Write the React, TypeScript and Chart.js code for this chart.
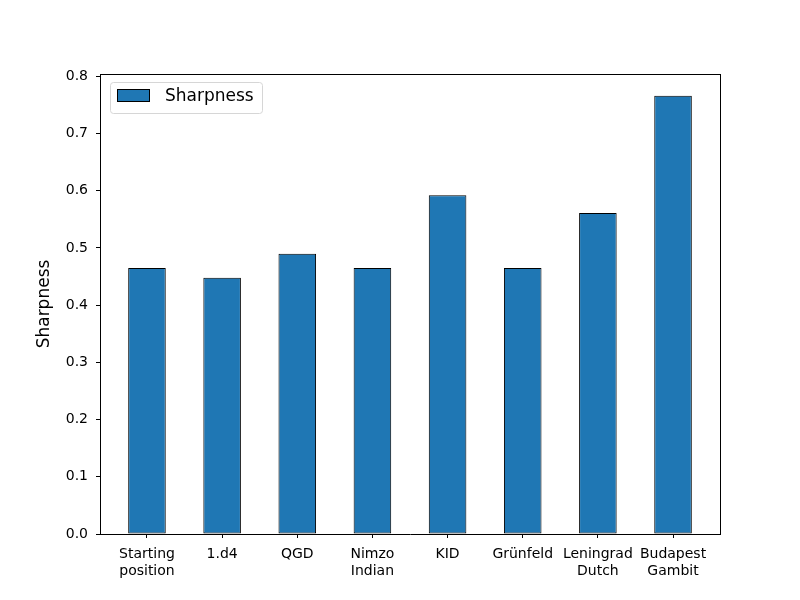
import { Chart, registerables } from "chart.js";
import { useEffect, useRef } from "react";

Chart.register(...registerables);

const openings = [
  "Starting\nposition",
  "1.d4",
  "QGD",
  "Nimzo\nIndian",
  "KID",
  "Grünfeld",
  "Leningrad\nDutch",
  "Budapest\nGambit",
];
const sharpness = [0.465, 0.448, 0.49, 0.465, 0.592, 0.465, 0.561, 0.766];
const yTicks = [0, 0.1, 0.2, 0.3, 0.4, 0.5, 0.6, 0.7, 0.8];

const FONT = "DejaVu Sans";
const BLUE = "#1f77b4";

// matplotlib-ish frame: top + right spines and the legend box inside the axes
const framePlugin = {
  id: "frame",
  afterDraw(chart: Chart) {
    const { ctx, chartArea } = chart;
    const { left, right, top, bottom } = chartArea;
    ctx.save();
    ctx.strokeStyle = "#000";
    ctx.lineWidth = 1;
    ctx.beginPath();
    ctx.moveTo(left, Math.round(top) + 0.5);
    ctx.lineTo(right, Math.round(top) + 0.5);
    ctx.moveTo(Math.round(right) + 0.5, top);
    ctx.lineTo(Math.round(right) + 0.5, bottom);
    ctx.stroke();

    // legend
    const bx = left + 10;
    const by = top + 8;
    const bw = 152;
    const bh = 31;
    ctx.fillStyle = "rgba(255,255,255,0.8)";
    ctx.strokeStyle = "#d6d6d6";
    ctx.beginPath();
    ctx.roundRect(bx + 0.5, by + 0.5, bw, bh, 3);
    ctx.fill();
    ctx.stroke();

    ctx.fillStyle = BLUE;
    ctx.strokeStyle = "#000";
    ctx.fillRect(bx + 7, by + 7, 33, 13);
    ctx.strokeRect(bx + 7.5, by + 7.5, 32, 12);

    ctx.fillStyle = "#000";
    ctx.font = `17px "${FONT}"`;
    ctx.textBaseline = "middle";
    ctx.fillText(String(chart.data.datasets[0].label), bx + 55, by + 14.5);
    ctx.restore();
  },
};

export default function App() {
  const canvasRef = useRef<HTMLCanvasElement | null>(null);

  useEffect(() => {
    document.body.style.margin = "0";
    if (!canvasRef.current) return;

    const chart = new Chart(canvasRef.current, {
      type: "bar",
      data: {
        datasets: [
          {
            label: "Sharpness",
            data: sharpness.map((v, i) => ({ x: i, y: v })),
            backgroundColor: BLUE,
            borderColor: "#000",
            borderWidth: 1,
            borderSkipped: false,
            barPercentage: 0.5,
            categoryPercentage: 1,
          },
        ],
      },
      options: {
        animation: false,
        responsive: false,
        devicePixelRatio: 1,
        layout: { padding: { top: 74, right: 80, left: 0, bottom: 0 } },
        plugins: {
          legend: { display: false },
          tooltip: { enabled: false },
        },
        scales: {
          x: {
            type: "linear",
            min: -0.625,
            max: 7.625,
            offset: false,
            afterBuildTicks: (scale) => {
              scale.ticks = openings.map((_, i) => ({ value: i }));
            },
            afterFit: (scale) => {
              scale.height = 66;
            },
            grid: {
              display: true,
              offset: false,
              drawOnChartArea: false,
              drawTicks: true,
              tickLength: 4,
              tickColor: "#000",
            },
            border: { display: true, color: "#000", width: 1 },
            ticks: {
              autoSkip: false,
              maxRotation: 0,
              padding: 8,
              color: "#000",
              font: { family: FONT, size: 14, lineHeight: 1.2 },
              callback: (value) => openings[Number(value)]?.split("\n") ?? "",
            },
          },
          y: {
            min: 0,
            max: 0.804,
            afterBuildTicks: (scale) => {
              scale.ticks = yTicks.map((v) => ({ value: v }));
            },
            afterFit: (scale) => {
              scale.width = 100;
            },
            grid: {
              display: true,
              drawOnChartArea: false,
              drawTicks: true,
              tickLength: 4,
              tickColor: "#000",
            },
            border: { display: true, color: "#000", width: 1 },
            ticks: {
              padding: 8,
              color: "#000",
              font: { family: FONT, size: 14 },
              callback: (value) => Number(value).toFixed(1),
            },
            title: {
              display: true,
              text: "Sharpness",
              color: "#000",
              font: { family: FONT, size: 17 },
              padding: { top: 34, bottom: 0 },
            },
          },
        },
      },
      plugins: [framePlugin],
    });

    return () => chart.destroy();
  }, []);

  return (
    <div style={{ width: 800, height: 600, background: "#fff" }}>
      <canvas ref={canvasRef} width={800} height={600} />
    </div>
  );
}
